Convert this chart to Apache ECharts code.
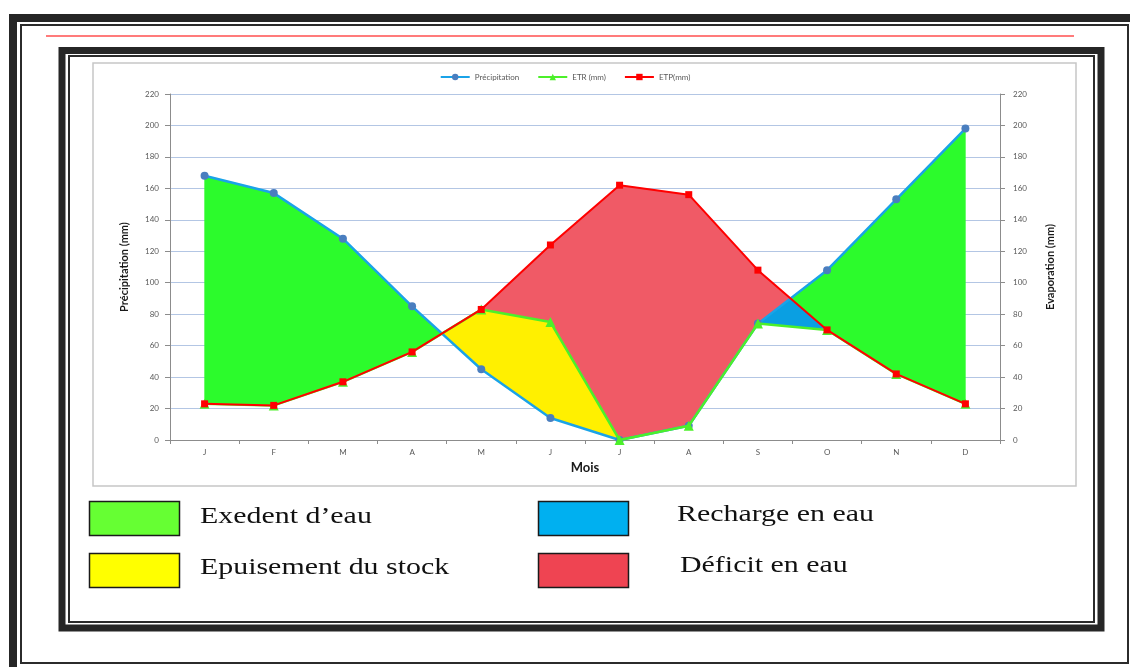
<!DOCTYPE html>
<html>
<head>
<meta charset="utf-8">
<script src="https://cdn.jsdelivr.net/npm/echarts@6/dist/echarts.min.js"></script>
<style>
  html, body { margin: 0; padding: 0; background: #ffffff; }
  #chart { width: 1130px; height: 667px; }
</style>
</head>
<body>
<div id="chart"></div>
<script>
// Monthly water balance (mm)
const months = ['J', 'F', 'M', 'A', 'M', 'J', 'J', 'A', 'S', 'O', 'N', 'D'];
const precipitation = [168, 157, 128, 85, 45, 14, 0, 9, 74, 108, 153, 198];
const etr = [23, 22, 37, 56, 83, 75, 0, 9, 74, 70, 42, 23];
const etp = [23, 22, 37, 56, 83, 124, 162, 156, 108, 70, 42, 23];

// Vertical scale shared by both value axes
const yMin = 0, yMax = 220, yStep = 20;

// Water balance zones shown under the chart
const zoneLabels = ['Exedent d’eau', 'Recharge en eau', 'Epuisement du stock', 'Déficit en eau'];
const zoneSwatch = ['#66ff33', '#00b0f0', '#ffff00', '#ef4452'];
const zoneFill = ['#2cfb2c', '#0a9fe2', '#fff000', '#f05a66'];

// ---- Area between two curves, split where they cross ----
const n = months.length;
const at = (arr, x) => {
  const i = Math.min(Math.floor(x), n - 2);
  const t = x - i;
  return arr[i] * (1 - t) + arr[i + 1] * t;
};
const P = x => at(precipitation, x);
const R = x => at(etr, x);
const E = x => at(etp, x);

function breakpoints(i) {
  const s = [precipitation, etr, etp];
  const ts = [0, 1];
  for (let a = 0; a < s.length; a++) {
    for (let b = a + 1; b < s.length; b++) {
      const d0 = s[a][i] - s[b][i], d1 = s[a][i + 1] - s[b][i + 1];
      if (d0 * d1 < 0) ts.push(d0 / (d0 - d1));
    }
  }
  return ts.sort((p, q) => p - q);
}

function regionPolygons(upper, lower) {
  const eps = 1e-6;
  const polys = [];
  let cur = null;
  const close = () => {
    if (cur) { polys.push(cur.top.concat(cur.bottom.reverse())); cur = null; }
  };
  for (let i = 0; i < n - 1; i++) {
    const ts = breakpoints(i);
    for (let k = 0; k < ts.length - 1; k++) {
      const xa = i + ts[k], xb = i + ts[k + 1];
      if (xb - xa < 1e-9) continue;
      const da = upper(xa) - lower(xa), db = upper(xb) - lower(xb);
      if (da <= eps && db <= eps) { close(); continue; }
      let x0 = xa, x1 = xb;
      if (da <= eps) x0 = xa + (xb - xa) * (da / (da - db));
      if (db <= eps) x1 = xa + (xb - xa) * (da / (da - db));
      if (!cur) cur = { top: [[x0, upper(x0)]], bottom: [[x0, lower(x0)]] };
      cur.top.push([x1, upper(x1)]);
      cur.bottom.push([x1, lower(x1)]);
      if (db <= eps) close();
    }
  }
  close();
  return polys;
}

const zones = [
  regionPolygons(P, E),                                   // excess
  regionPolygons(x => Math.min(P(x), E(x)), R),           // recharge
  regionPolygons(R, P),                                   // stock depletion
  regionPolygons(E, x => Math.max(R(x), P(x)))            // deficit
];

function zoneSeries(polys, color, idx) {
  return {
    type: 'custom',
    name: 'zone' + idx,
    coordinateSystem: 'cartesian2d',
    xAxisIndex: 1,
    yAxisIndex: 0,
    silent: true,
    z: 1,
    data: polys.map(p => [p[0][0], p[0][1]]),
    renderItem: (params, api) => ({
      type: 'polygon',
      shape: { points: polys[params.dataIndex].map(q => api.coord(q)) },
      style: { fill: color, stroke: color, lineWidth: 0.5 }
    })
  };
}

const chartFont = 'Lato, "Open Sans", sans-serif';
const tickColor = '#595959';
const axisGrey = '#8c8c8c';

// ---- Page frame and the zone key ----
const graphics = [
  { type: 'rect', shape: { x: 13, y: 18, width: 1200, height: 700 }, style: { fill: 'none', stroke: '#262626', lineWidth: 8 } },
  { type: 'rect', shape: { x: 21, y: 25, width: 1107, height: 638 }, style: { fill: 'none', stroke: '#2b2b2b', lineWidth: 2 } },
  { type: 'line', shape: { x1: 46, y1: 36, x2: 1074, y2: 36 }, style: { stroke: '#ff7b7b', lineWidth: 2 } },
  { type: 'rect', shape: { x: 62, y: 50.5, width: 1039, height: 577.5 }, style: { fill: 'none', stroke: '#262626', lineWidth: 7 } },
  { type: 'rect', shape: { x: 69, y: 56, width: 1025, height: 566 }, style: { fill: 'none', stroke: '#2b2b2b', lineWidth: 2 } },
  { type: 'rect', shape: { x: 93, y: 63, width: 983, height: 423 }, style: { fill: 'none', stroke: '#c6c6c6', lineWidth: 1.5 } }
];
const keyPos = [[89.5, 501.5, 200, 517], [538.5, 501.5, 677, 515], [89.5, 553.5, 200, 568], [538.5, 553.5, 680, 566]];
zoneLabels.forEach((label, i) => {
  const [sx, sy, tx, ty] = keyPos[i];
  graphics.push({ type: 'rect', shape: { x: sx, y: sy, width: 90, height: 34 }, style: { fill: zoneSwatch[i], stroke: '#1a1a1a', lineWidth: 1.5 } });
  graphics.push({
    type: 'text', x: tx, y: ty, scaleX: 1.3,
    style: { text: label, x: 0, y: 0, fill: '#111111', font: '23px "Liberation Serif", "Times New Roman", serif', textAlign: 'left', textVerticalAlign: 'middle' }
  });
});

const chart = echarts.init(document.getElementById('chart'), null, { renderer: 'canvas' });
chart.setOption({
  backgroundColor: '#ffffff',
  animation: false,
  textStyle: { fontFamily: chartFont },
  graphic: graphics,
  legend: {
    data: ['Précipitation', 'ETR (mm)', 'ETP(mm)'],
    top: 68,
    left: 'center',
    itemWidth: 29,
    itemHeight: 8,
    itemGap: 18,
    textStyle: { fontSize: 8, color: tickColor, fontFamily: chartFont }
  },
  grid: { left: 170, right: 130, top: 94, bottom: 227, containLabel: false },
  xAxis: [
    {
      type: 'category',
      data: months,
      boundaryGap: true,
      name: 'Mois',
      nameLocation: 'middle',
      nameGap: 21,
      nameTextStyle: { fontSize: 13, fontWeight: 'bold', color: '#1a1a1a' },
      axisLine: { onZero: false, lineStyle: { color: axisGrey, width: 1 } },
      axisTick: { show: true, length: 4, lineStyle: { color: axisGrey } },
      axisLabel: { fontSize: 8, color: tickColor, margin: 8 },
      splitLine: { show: false }
    },
    { type: 'value', min: -0.5, max: 11.5, show: false, axisLine: { onZero: false }, splitLine: { show: false } }
  ],
  yAxis: [
    {
      type: 'value',
      position: 'left',
      min: yMin, max: yMax, interval: yStep,
      name: 'Précipitation (mm)',
      nameLocation: 'middle',
      nameRotate: 90,
      nameGap: 40,
      nameTextStyle: { fontSize: 11, fontWeight: 'bold', color: '#1a1a1a' },
      axisLine: { show: true, onZero: false, lineStyle: { color: axisGrey } },
      axisTick: { show: true, length: 5, lineStyle: { color: axisGrey } },
      axisLabel: { fontSize: 8, color: tickColor, margin: 11 },
      splitLine: { show: true, lineStyle: { color: '#b3c6e4', width: 1 } }
    },
    {
      type: 'value',
      position: 'right',
      min: yMin, max: yMax, interval: yStep,
      name: 'Evaporation (mm)',
      nameLocation: 'middle',
      nameRotate: 90,
      nameGap: 45,
      nameTextStyle: { fontSize: 11, fontWeight: 'bold', color: '#1a1a1a' },
      axisLine: { show: true, onZero: false, lineStyle: { color: axisGrey } },
      axisTick: { show: true, length: 5, lineStyle: { color: axisGrey } },
      axisLabel: { fontSize: 8, color: tickColor, margin: 13 },
      splitLine: { show: false }
    }
  ],
  series: zones.map((polys, i) => zoneSeries(polys, zoneFill[i], i)).concat([
    {
      name: 'Précipitation', type: 'line', data: precipitation, xAxisIndex: 0, yAxisIndex: 0, z: 3,
      symbol: 'circle', symbolSize: 8, showAllSymbol: true,
      lineStyle: { color: '#1aa3e8', width: 2.5 },
      itemStyle: { color: '#4a7ebf', borderColor: '#4a7ebf', borderWidth: 0 }
    },
    {
      name: 'ETR (mm)', type: 'line', data: etr, xAxisIndex: 0, yAxisIndex: 0, z: 4,
      symbol: 'triangle', symbolSize: 10, showAllSymbol: true,
      lineStyle: { color: '#4cf02a', width: 2.5 },
      itemStyle: { color: '#4cf02a', borderWidth: 0 }
    },
    {
      name: 'ETP(mm)', type: 'line', data: etp, xAxisIndex: 0, yAxisIndex: 0, z: 5,
      symbol: 'rect', symbolSize: 7, showAllSymbol: true,
      lineStyle: { color: '#ff0000', width: 2 },
      itemStyle: { color: '#ff0000', borderWidth: 0 }
    }
  ])
});
</script>
</body>
</html>
